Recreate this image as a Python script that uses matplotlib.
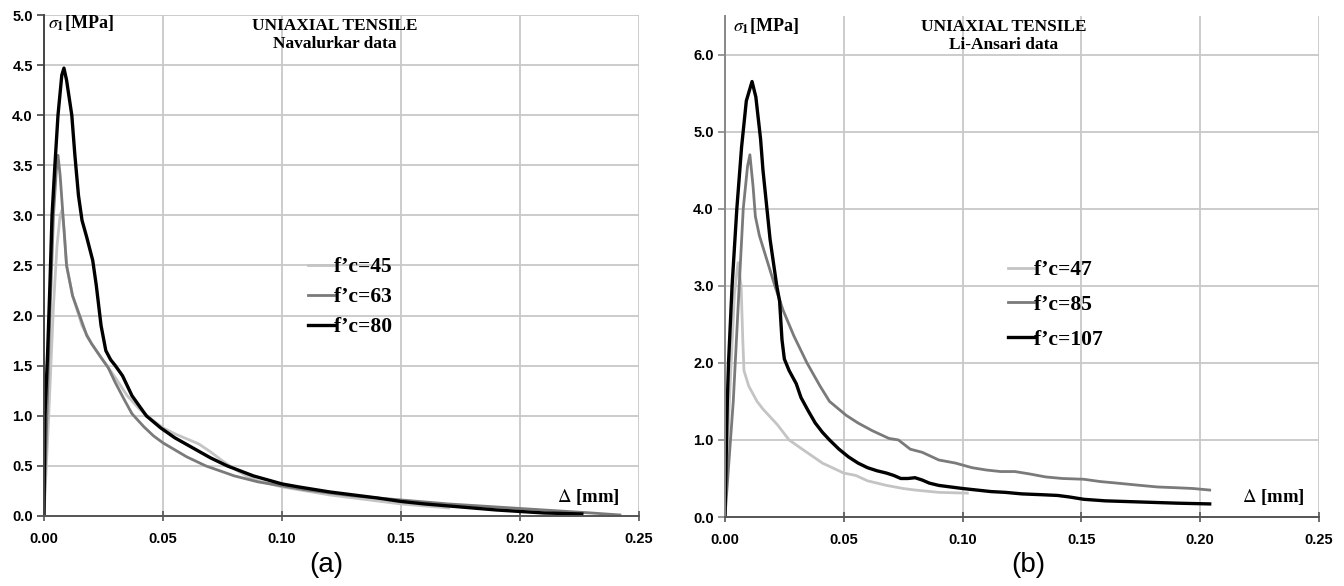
import matplotlib
matplotlib.use("Agg")
import matplotlib.pyplot as plt

# (a) Navalurkar data, uniaxial tensile
nav_x45 = [0, 0.002, 0.004, 0.0055, 0.0068, 0.0076, 0.0085, 0.0095, 0.012, 0.016, 0.02, 0.025, 0.03,
           0.035, 0.04, 0.045, 0.05, 0.055, 0.06, 0.065, 0.07, 0.075, 0.08, 0.085, 0.09, 0.10,
           0.11, 0.12, 0.13, 0.14, 0.15, 0.16, 0.17]
nav_y45 = [0, 1.0, 2.1, 2.7, 3.0, 3.05, 2.85, 2.5, 2.2, 1.9, 1.72, 1.55, 1.38, 1.2, 1.07, 0.97,
           0.88, 0.82, 0.77, 0.72, 0.64, 0.55, 0.47, 0.40, 0.35, 0.29, 0.25, 0.21, 0.18, 0.15,
           0.12, 0.10, 0.08]

nav_x63 = [0, 0.001, 0.0025, 0.004, 0.0052, 0.0059, 0.0068, 0.008, 0.0095, 0.012, 0.015, 0.018,
           0.02, 0.024, 0.027, 0.03, 0.034, 0.037, 0.042, 0.046, 0.05, 0.055, 0.06, 0.068, 0.08,
           0.09, 0.10, 0.11, 0.12, 0.13, 0.14, 0.15, 0.16, 0.17, 0.18, 0.19, 0.20, 0.21, 0.22,
           0.23, 0.242]
nav_y63 = [0, 0.8, 2.0, 3.0, 3.45, 3.6, 3.4, 3.0, 2.5, 2.2, 2.0, 1.8, 1.72, 1.58, 1.48, 1.33,
           1.15, 1.02, 0.89, 0.8, 0.73, 0.66, 0.59, 0.5, 0.4, 0.34, 0.3, 0.26, 0.23, 0.2, 0.18,
           0.16, 0.14, 0.12, 0.105, 0.09, 0.075, 0.06, 0.045, 0.03, 0.01]

nav_x80 = [0, 0.0004, 0.0015, 0.0025, 0.0034, 0.0046, 0.0059, 0.0075, 0.0084, 0.0095, 0.0117,
           0.013, 0.0145, 0.016, 0.018, 0.0205, 0.022, 0.024, 0.026, 0.028, 0.03, 0.033, 0.037,
           0.043, 0.049, 0.055, 0.061, 0.07, 0.077, 0.088, 0.10, 0.107, 0.12, 0.13, 0.14, 0.15,
           0.16, 0.17, 0.18, 0.19, 0.20, 0.21, 0.226]
nav_y80 = [0, 1.0, 1.6, 2.3, 3.0, 3.5, 4.0, 4.4, 4.47, 4.35, 4.0, 3.6, 3.2, 2.95, 2.78, 2.55,
           2.3, 1.9, 1.65, 1.56, 1.5, 1.4, 1.2, 1.0, 0.88, 0.78, 0.7, 0.58, 0.5, 0.4, 0.32,
           0.29, 0.24, 0.21, 0.18, 0.145, 0.12, 0.1, 0.08, 0.06, 0.045, 0.03, 0.02]

# (b) Li-Ansari data
li_x47 = [0, 0.002, 0.004, 0.0055, 0.0068, 0.0075, 0.008, 0.01, 0.0135, 0.016, 0.019, 0.022,
          0.027, 0.033, 0.041, 0.05, 0.055, 0.06, 0.068, 0.075, 0.08, 0.09, 0.102]
li_y47 = [0, 1.6, 2.9, 3.3, 3.0, 2.3, 1.9, 1.7, 1.5, 1.4, 1.3, 1.2, 1.0, 0.87, 0.70, 0.57, 0.54,
          0.47, 0.41, 0.37, 0.35, 0.32, 0.31]

li_x85 = [0, 0.0035, 0.006, 0.0077, 0.0095, 0.0105, 0.0118, 0.0128, 0.0145, 0.017, 0.021,
          0.0245, 0.029, 0.0345, 0.040, 0.044, 0.051, 0.056, 0.062, 0.069, 0.073, 0.078, 0.083,
          0.09, 0.097, 0.104, 0.11, 0.116, 0.122, 0.128, 0.135, 0.142, 0.151, 0.158, 0.165,
          0.175, 0.182, 0.19, 0.197, 0.204]
li_y85 = [0, 1.5, 3.0, 4.0, 4.55, 4.7, 4.3, 3.9, 3.65, 3.4, 3.0, 2.68, 2.35, 2.0, 1.7, 1.5,
          1.32, 1.22, 1.12, 1.02, 1.0, 0.88, 0.84, 0.74, 0.7, 0.64, 0.61, 0.59, 0.59, 0.56,
          0.52, 0.5, 0.49, 0.46, 0.44, 0.41, 0.39, 0.38, 0.37, 0.35]

li_x107 = [0, 0.001, 0.0015, 0.003, 0.005, 0.007, 0.009, 0.0114, 0.013, 0.015, 0.016, 0.019,
           0.0218, 0.023, 0.024, 0.025, 0.027, 0.030, 0.032, 0.035, 0.038, 0.041, 0.044, 0.048,
           0.052, 0.056, 0.060, 0.064, 0.068, 0.071, 0.074, 0.077, 0.080, 0.083, 0.086, 0.090,
           0.095, 0.100, 0.106, 0.112, 0.118, 0.125, 0.133, 0.140, 0.145, 0.151, 0.16, 0.17,
           0.18, 0.19, 0.204]
li_y107 = [0, 1.5, 2.0, 3.0, 4.0, 4.8, 5.4, 5.65, 5.45, 4.9, 4.5, 3.6, 3.0, 2.8, 2.3, 2.05,
           1.9, 1.73, 1.55, 1.38, 1.22, 1.1, 1.0, 0.88, 0.78, 0.7, 0.64, 0.6, 0.57, 0.54, 0.5,
           0.5, 0.51, 0.48, 0.44, 0.41, 0.39, 0.37, 0.35, 0.33, 0.32, 0.3, 0.29, 0.28, 0.26,
           0.23, 0.21, 0.2, 0.19, 0.18, 0.17]

x_ticks = [0.0, 0.05, 0.10, 0.15, 0.20, 0.25]
y_ticks_a = [0.0, 0.5, 1.0, 1.5, 2.0, 2.5, 3.0, 3.5, 4.0, 4.5, 5.0]
y_ticks_b = [0.0, 1.0, 2.0, 3.0, 4.0, 5.0, 6.0]

LIGHT, MID, DARK = '#c4c4c4', '#7a7a7a', '#000000'
SERIF = 'Liberation Serif'
SANS = 'Liberation Sans'
plt.rcParams['mathtext.fontset'] = 'stix'


def style_axes(ax, ymax, yticks, spine_color):
    ax.set_xlim(0, 0.25)
    ax.set_ylim(0, ymax)
    ax.set_xticks(x_ticks)
    ax.set_xticklabels(['%.2f' % v for v in x_ticks])
    ax.set_yticks(yticks)
    ax.set_yticklabels(['%.1f' % v for v in yticks])
    for lab in ax.get_xticklabels() + ax.get_yticklabels():
        lab.set_fontfamily(SANS)
        lab.set_fontweight('bold')
        lab.set_fontsize(10.5)
    ax.grid(True, color='#c8c8c8', linewidth=1.3)
    ax.set_axisbelow(True)
    for s in ['top', 'right']:
        ax.spines[s].set_visible(False)
    ax.spines['left'].set_color(spine_color)
    ax.spines['left'].set_linewidth(1.4)
    ax.spines['bottom'].set_color('#555555')
    ax.spines['bottom'].set_linewidth(1.4)
    ax.tick_params(axis='x', direction='inout', length=7, width=1.2, color='#555555', pad=8)
    ax.tick_params(axis='y', direction='out', length=5, width=1.2, color=spine_color, pad=3)


fig = plt.figure(figsize=(13.44, 5.86), dpi=100)
ax1 = fig.add_axes([0.0327, 0.1195, 0.4427, 0.8549])
ax2 = fig.add_axes([0.5394, 0.1177, 0.4420, 0.8550])

style_axes(ax1, 5.0, y_ticks_a, '#444444')
style_axes(ax2, 6.5, y_ticks_b, '#888888')

ax1.plot(nav_x45, nav_y45, color=LIGHT, lw=2.0, label='f\u2019c=45')
ax1.plot(nav_x63, nav_y63, color=MID, lw=2.0, label='f\u2019c=63')
ax1.plot(nav_x80, nav_y80, color=DARK, lw=2.4, label='f\u2019c=80')

ax2.plot(li_x47, li_y47, color=LIGHT, lw=2.0, label='f\u2019c=47')
ax2.plot(li_x85, li_y85, color=MID, lw=2.0, label='f\u2019c=85')
ax2.plot(li_x107, li_y107, color=DARK, lw=2.4, label='f\u2019c=107')

leg_font = {'family': SERIF, 'weight': 'bold', 'size': 15.5}
ax1.legend(loc='upper left', bbox_to_anchor=(0.229, 0.561), bbox_transform=fig.transFigure,
           frameon=False, prop=leg_font, handlelength=1.2, handletextpad=0.0,
           labelspacing=0.46, borderpad=0, borderaxespad=0)
ax2.legend(loc='upper left', bbox_to_anchor=(0.750, 0.556), bbox_transform=fig.transFigure,
           frameon=False, prop=leg_font, handlelength=1.2, handletextpad=0.0,
           labelspacing=0.68, borderpad=0, borderaxespad=0)

# titles inside the plots
ax1.text(0.122, 4.89, 'UNIAXIAL TENSILE', ha='center', va='center',
         family=SERIF, weight='bold', fontsize=12.5)
ax1.text(0.122, 4.71, 'Navalurkar data', ha='center', va='center',
         family=SERIF, weight='bold', fontsize=12.5)
ax2.text(0.1174, 6.36, 'UNIAXIAL TENSILE', ha='center', va='center',
         family=SERIF, weight='bold', fontsize=12.5)
ax2.text(0.1174, 6.13, 'Li-Ansari data', ha='center', va='center',
         family=SERIF, weight='bold', fontsize=12.5)

# axis labels
ax1.text(0.0015, 4.92, r'$\sigma_{\mathbf{1}}$[MPa]', ha='left', va='center',
         family=SERIF, weight='bold', fontsize=13)
ax2.text(0.0034, 6.37, r'$\sigma_{\mathbf{1}}$[MPa]', ha='left', va='center',
         family=SERIF, weight='bold', fontsize=13)
ax1.text(0.242, 0.19, r'$\Delta$ [mm]', ha='right', va='center',
         family=SERIF, weight='bold', fontsize=13.5)
ax2.text(0.244, 0.26, r'$\Delta$ [mm]', ha='right', va='center',
         family=SERIF, weight='bold', fontsize=13.5)

fig.text(0.2426, 0.036, '(a)', ha='center', va='center', family=SANS, fontsize=20)
fig.text(0.7649, 0.036, '(b)', ha='center', va='center', family=SANS, fontsize=20)

fig.savefig('out.png', dpi=100)
